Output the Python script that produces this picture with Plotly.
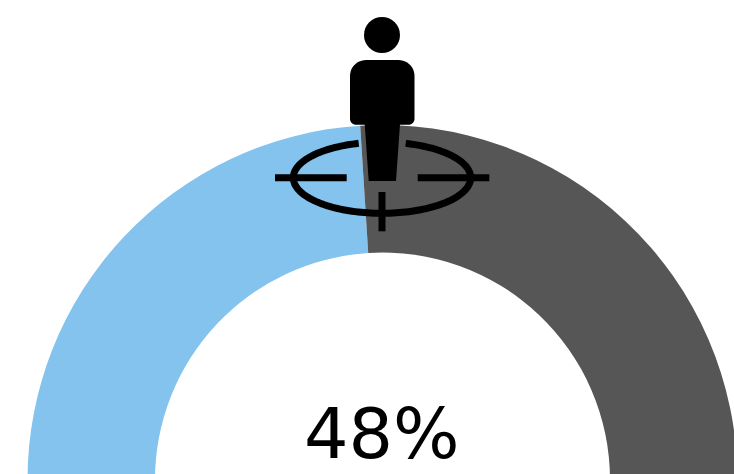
import numpy as np
import plotly.graph_objects as go

# Share of the half ring taken by each group; the hidden slice closes the lower half.
segment_labels = ["Targeted", "Others", "Hidden"]
segment_values = [48, 52, 100]
segment_colors = ["#83C3EE", "#565656", "rgba(0,0,0,0)"]
headline = "48%"

# The ring's centre sits on the lower edge of the view, so the canvas runs past it.
W, H = 765, 960
CX, CY, R_OUT, R_IN = 382.5, 480.0, 355.0, 227.5


def px(x):
    return x / W


def py(y):
    return 1 - y / H


def to_path(points, close=False):
    body = "L".join(f"{px(x):.5f},{py(y):.5f}" for x, y in points)
    return "M" + body + ("Z" if close else "")


def rounded_body(left, right, top, bottom, r_top, r_bot):
    pts = []
    corners = [
        (left + r_top, top + r_top, r_top, np.pi, 1.5 * np.pi),
        (right - r_top, top + r_top, r_top, 1.5 * np.pi, 2 * np.pi),
        (right - r_bot, bottom - r_bot, r_bot, 0, 0.5 * np.pi),
        (left + r_bot, bottom - r_bot, r_bot, 0.5 * np.pi, np.pi),
    ]
    for cx, cy, r, a0, a1 in corners:
        for a in np.linspace(a0, a1, 12):
            pts.append((cx + r * np.cos(a), cy + r * np.sin(a)))
    return pts


fig = go.Figure(
    go.Pie(
        labels=segment_labels,
        values=segment_values,
        sort=False,
        direction="clockwise",
        rotation=270,
        hole=R_IN / R_OUT,
        marker=dict(colors=segment_colors, line=dict(width=0)),
        textinfo="none",
        hoverinfo="skip",
        showlegend=False,
        domain=dict(
            x=[(CX - R_OUT) / W, (CX + R_OUT) / W],
            y=[1 - (CY + R_OUT) / H, 1 - (CY - R_OUT) / H],
        ),
    )
)

black = "#000000"
shapes = []

# Figure standing on the ring
shapes.append(dict(type="circle", xref="paper", yref="paper",
                   x0=px(364), x1=px(400), y0=py(53), y1=py(17),
                   fillcolor=black, line=dict(width=0)))
shapes.append(dict(type="path", xref="paper", yref="paper",
                   path=to_path(rounded_body(350, 414.5, 60, 124.7, 16, 6), True),
                   fillcolor=black, line=dict(width=0)))
shapes.append(dict(type="path", xref="paper", yref="paper",
                   path=to_path([(364.7, 124), (400, 124), (396, 181), (368.7, 181)], True),
                   fillcolor=black, line=dict(width=0)))

# Reticle ring, open at the top behind the figure
ex, ey, erx, ery = 382.0, 177.7, 88.7, 35.6
a_right = np.arccos((405.7 - ex) / erx)
a_left = np.arccos((358.7 - ex) / erx)
angles = np.linspace(-a_right, 2 * np.pi - a_left, 160)
ring = [(ex + erx * np.cos(a), ey + ery * np.sin(a)) for a in angles]
shapes.append(dict(type="path", xref="paper", yref="paper", path=to_path(ring),
                   line=dict(color=black, width=7)))

# Reticle cross hairs
for (x0, y0, x1, y1) in [(275, 177.7, 346.7, 177.7),
                         (417.7, 177.7, 489.3, 177.7),
                         (382, 192, 382, 231.3)]:
    shapes.append(dict(type="line", xref="paper", yref="paper",
                       x0=px(x0), y0=py(y0), x1=px(x1), y1=py(y1),
                       line=dict(color=black, width=7)))

fig.update_layout(
    width=W,
    height=H,
    margin=dict(l=0, r=0, t=0, b=0),
    paper_bgcolor="#ffffff",
    shapes=shapes,
    annotations=[dict(
        text=headline, xref="paper", yref="paper",
        x=px(382), y=py(434), xanchor="center", yanchor="middle",
        showarrow=False,
        font=dict(family="DejaVu Sans", size=70, color="#000000"),
    )],
)

# Keep the page to the window size; the part of the canvas below it stays out of view.
fig.write_html("out.html", post_script=(
    "document.documentElement.style.overflow='hidden';"
    "document.body.style.overflow='hidden';"
))
